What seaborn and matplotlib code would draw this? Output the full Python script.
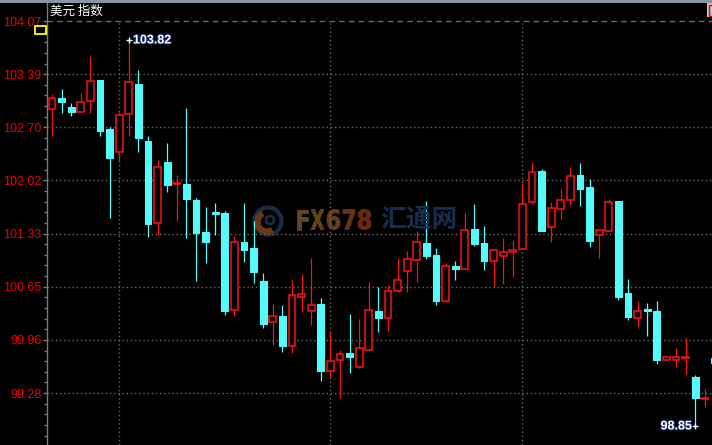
import numpy as np
import matplotlib
matplotlib.use("Agg")
import matplotlib.pyplot as plt
import matplotlib.patches as mpatches
import matplotlib.patheffects as pe
from matplotlib.transforms import IdentityTransform, Affine2D
from matplotlib.textpath import TextPath
from matplotlib.font_manager import FontProperties
import seaborn as sns

# daily OHLC of the dollar index
opens = [102.94, 103.08, 102.96, 102.90, 103.04, 103.31, 102.68, 102.38, 102.87, 103.26,
         102.52, 101.47, 102.25, 101.97, 101.97, 101.76, 101.35, 101.61, 101.60, 100.35,
         101.22, 101.15, 100.72, 100.19, 100.27, 99.89, 100.52, 100.33, 100.43, 99.57,
         99.70, 99.80, 99.62, 99.84, 100.34, 100.25, 100.59, 100.85, 100.99, 101.21,
         101.06, 100.46, 100.92, 100.88, 101.39, 101.21, 100.98, 101.05, 101.10, 101.13,
         101.74, 102.14, 101.42, 101.65, 101.77, 102.09, 101.93, 101.32, 101.36, 101.75,
         100.57, 100.25, 100.36, 100.34, 99.71, 99.70, 99.73, 99.49, 99.20, 99.73]
highs = [103.13, 103.20, 103.01, 103.14, 103.62, 103.31, 102.70, 102.90, 103.82, 103.44,
         102.59, 102.28, 102.50, 102.09, 102.95, 101.79, 101.68, 101.73, 101.63, 101.30,
         101.73, 101.50, 100.83, 100.43, 100.41, 100.74, 100.81, 101.02, 100.50, 100.06,
         99.83, 100.30, 100.23, 100.71, 100.65, 100.67, 101.02, 101.11, 101.37, 101.75,
         101.15, 100.95, 100.98, 101.60, 101.71, 101.43, 101.13, 101.28, 101.25, 101.98,
         102.25, 102.17, 101.74, 101.91, 102.19, 102.24, 102.04, 101.38, 101.78, 101.75,
         100.75, 100.47, 100.44, 100.47, 99.74, 99.86, 99.99, 99.51, 99.33, 99.78]
lows = [102.59, 102.88, 102.85, 102.90, 102.88, 102.59, 101.54, 102.25, 102.59, 102.38,
        101.29, 101.31, 101.87, 101.49, 101.27, 100.72, 100.96, 101.32, 100.29, 100.27,
        100.97, 100.70, 100.12, 99.90, 99.81, 99.80, 100.32, 100.16, 99.43, 99.49,
        99.22, 99.54, 99.60, 99.82, 100.06, 100.08, 100.58, 100.58, 100.71, 101.00,
        100.42, 100.45, 100.74, 100.88, 101.17, 100.86, 100.66, 100.68, 100.77, 101.13,
        101.71, 101.36, 101.22, 101.52, 101.70, 101.69, 101.16, 101.02, 101.36, 100.48,
        100.22, 100.13, 100.02, 99.66, 99.71, 99.62, 99.52, 98.85, 99.10, 99.62]
closes = [103.08, 103.03, 102.90, 103.03, 103.30, 102.66, 102.31, 102.86, 103.28, 102.57,
          101.46, 102.19, 101.96, 101.98, 101.78, 101.34, 101.22, 101.58, 100.34, 101.22,
          101.12, 100.84, 100.17, 100.27, 99.88, 100.54, 100.55, 100.42, 99.56, 99.69,
          99.78, 99.74, 99.86, 100.35, 100.25, 100.60, 100.74, 101.00, 101.22, 101.04,
          100.47, 100.92, 100.88, 101.38, 101.20, 100.98, 101.12, 101.10, 101.12, 101.72,
          102.13, 101.36, 101.66, 101.77, 102.08, 101.91, 101.24, 101.38, 101.74, 100.52,
          100.26, 100.34, 100.34, 99.71, 99.74, 99.74, 99.74, 99.21, 99.21, 99.67]

y_ticks = [99.28, 99.964, 100.649, 101.333, 102.017, 102.701, 103.386, 104.07]
y_tick_labels = ["99.28", "99.96", "100.65", "101.33", "102.02", "102.70", "103.39", "104.07"]
month_starts = [7, 29, 49]

UP = "#ff1010"
DOWN = "#55fafa"
GRID = "#6a6a6a"
YMIN, YMAX = 98.611, 104.302

sns.set_theme(style="dark", rc={
    "axes.facecolor": "black",
    "figure.facecolor": "black",
    "axes.edgecolor": "#7a7a7a",
    "axes.grid": False,
})
plt.rcParams["font.family"] = ["Liberation Sans", "DejaVu Sans"]

W, H = 712, 445
fig = plt.figure(figsize=(W / 100, H / 100), dpi=100)
ax = fig.add_axes([47 / W, 0, (W - 47) / W, (H - 3) / H])
ax.patch.set_alpha(0)
idt = IdentityTransform()

o = np.array(opens)
h = np.array(highs)
l = np.array(lows)
c = np.array(closes)
x = np.arange(len(o))
up = c >= o

# --- watermark (behind candles): narrow "FX678", each glyph fitted into its slot ---
wm_prop = FontProperties(family="DejaVu Sans", weight="bold")
wm_chars = ["F", "X", "6", "7", "8"]
wm_cols = ["#5c4a1c", "#5e441a", "#633e18", "#663314", "#6a2a10"]
wm_slots = [(297, 308), (311, 324), (327, 340), (343, 355), (358, 371)]
for ch, col, (x0, x1) in zip(wm_chars, wm_cols, wm_slots):
    p = TextPath((0, 0), ch, size=10, prop=wm_prop)
    e = p.get_extents()
    tr = (Affine2D().translate(-e.x0, -e.y0)
          .scale((x1 - x0) / e.width, 20 / e.height).translate(x0, H - 229.5))
    fig.add_artist(mpatches.PathPatch(tr.transform_path(p), transform=idt, facecolor=col,
                                      edgecolor=col, lw=0.6, zorder=0))
fig.text(380 / W, 1 - 219 / H, "汇通网", color="#172d4e", fontsize=18.5, weight="bold",
         family=["Noto Sans CJK SC", "DejaVu Sans"], va="center", ha="left", zorder=0)
fig.add_artist(mpatches.Circle((268, H - 221), 13.5, transform=idt, fill=False,
                               edgecolor="#1a2b4a", lw=3, zorder=0))
fig.add_artist(mpatches.Wedge((267, H - 222), 12, 120, 300, width=5, transform=idt,
                              color="#6a3812", zorder=0))
fig.add_artist(mpatches.Circle((270, H - 220), 4, transform=idt, fill=False,
                               edgecolor="#1a2b4a", lw=2, zorder=0))

# --- grid ---
for yv in y_ticks[:-1]:
    ax.axhline(yv, color=GRID, lw=1, ls=(0, (1, 2)), zorder=1)
ax.axhline(y_ticks[-1], color=GRID, lw=1, ls=(0, (4, 3)), zorder=1)
ax.vlines(month_starts, YMIN, y_ticks[-1] - 0.02, color=GRID, lw=1, ls=(0, (1, 2)), zorder=1)

# --- candles ---
ax.vlines(x[up], l[up], h[up], color=UP, lw=0.9, zorder=2)
ax.vlines(x[~up], l[~up], h[~up], color=DOWN, lw=0.9, zorder=2)
bw = 0.7
ax.bar(x[up], np.abs(c - o)[up], bottom=np.minimum(o, c)[up], width=bw,
       facecolor="black", edgecolor=UP, linewidth=1.1, zorder=3)
ax.bar(x[~up], np.abs(c - o)[~up], bottom=np.minimum(o, c)[~up], width=bw,
       facecolor=DOWN, edgecolor=DOWN, linewidth=0.8, zorder=3)

# --- high / low markers ---
hi = int(np.argmax(h))
lo = int(np.argmin(l))
stroke = [pe.withStroke(linewidth=1.5, foreground="#1b2a66")]
ax.plot([hi], [h[hi]], marker="+", ms=5, color="white", mew=1, zorder=4)
ax.annotate(f"{h[hi]:.2f}", (hi, h[hi]), xytext=(3, 0), textcoords="offset points",
            color="white", fontsize=9, weight="bold", va="center", ha="left",
            path_effects=stroke, zorder=5)
ax.plot([lo], [l[lo]], marker="+", ms=5, color="white", mew=1, zorder=4)
ax.annotate(f"{l[lo]:.2f}", (lo, l[lo]), xytext=(-2.5, 0), textcoords="offset points",
            color="white", fontsize=9, weight="bold", va="center", ha="right",
            path_effects=stroke, zorder=5)

# --- axes ---
ax.set_xticks([])
ax.set_yticks(y_ticks)
ax.set_yticklabels(y_tick_labels)
step = (y_ticks[-1] - y_ticks[0]) / 7
minor = [y_ticks[0] + k * step + j * step / 5 for k in range(-1, 7) for j in range(1, 5)]
minor = [m for m in minor if YMIN < m < YMAX]
ax.set_yticks(minor, minor=True)
ax.set_xlim(-0.52, 68.75)
ax.set_ylim(YMIN, YMAX)
ax.tick_params(axis="y", which="major", colors="#7a7a7a", labelcolor="#f00000",
               labelsize=9, length=3, width=1, pad=1, left=True, direction="out")
ax.tick_params(axis="y", which="minor", colors="#7a7a7a", length=2, width=1, left=True)
for s in ["top", "right", "bottom"]:
    ax.spines[s].set_visible(False)
ax.spines["left"].set_linewidth(1)

# --- title and window decorations ---
fig.text(50 / W, 1 - 11 / H, "美元 指数", color="white", fontsize=9,
         family=["Noto Sans CJK SC", "DejaVu Sans"], va="center", ha="left")
fig.add_artist(mpatches.Rectangle((0, H - 2.5), W, 2.5, transform=idt,
                                  color="#8c93a6", lw=0))
fig.add_artist(mpatches.Rectangle((34.5, H - 33.5), 11, 8, transform=idt,
                                  fill=False, edgecolor="#ffff00", lw=1.3))
fig.add_artist(mpatches.Rectangle((707, H - 17), 6, 14, transform=idt,
                                  facecolor="#c8c8c8", edgecolor="none"))
fig.add_artist(mpatches.Rectangle((709, H - 16), 4, 11, transform=idt,
                                  fill=False, edgecolor="#dd0000", lw=1))

fig.savefig("out.png", dpi=100, facecolor="black")
